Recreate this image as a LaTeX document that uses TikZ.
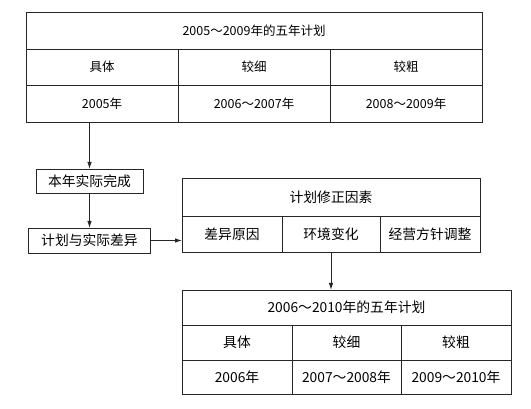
\documentclass[tikz,border=0pt]{standalone}
\usepackage{fontspec}
\setmainfont{Noto Sans CJK SC}
\usetikzlibrary{arrows.meta}
\tikzset{
  cell/.style={draw=black!85, line width=0.9pt, inner sep=0pt, outer sep=0pt, anchor=center, font=\fontsize{12.5}{14}\selectfont},
  cellb/.style={cell, font=\fontsize{13.8}{15}\selectfont},
  arr/.style={draw=black!85, line width=0.9pt, -{Latex[length=7pt,width=4.5pt]}}
}
\begin{document}
\begin{tikzpicture}[x=1pt,y=-1pt]
\useasboundingbox (0,0) rectangle (531,409);
% top table
\node[cell, minimum width=456pt, minimum height=37pt] (t1) at (254,30.5) {2005～2009年的五年计划};
\node[cell, minimum width=152pt, minimum height=36pt] (t2a) at (102,67) {具体};
\node[cell, minimum width=152pt, minimum height=36pt] (t2b) at (254,67) {较细};
\node[cell, minimum width=152pt, minimum height=36pt] (t2c) at (406,67) {较粗};
\node[cell, minimum width=152pt, minimum height=37pt] (t3a) at (102,103.5) {2005年};
\node[cell, minimum width=152pt, minimum height=37pt] (t3b) at (254,103.5) {2006～2007年};
\node[cell, minimum width=152pt, minimum height=37pt] (t3c) at (406,103.5) {2008～2009年};
% left boxes
\node[cellb, minimum width=107pt, minimum height=24pt] (box1) at (89.5,181) {本年实际完成};
\node[cellb, minimum width=122pt, minimum height=25pt] (box2) at (89.5,240.5) {计划与实际差异};
% middle table
\node[cellb, minimum width=298pt, minimum height=38pt] (m1) at (331,197) {计划修正因素};
\node[cellb, minimum width=100pt, minimum height=36pt] (m2a) at (232,234) {差异原因};
\node[cellb, minimum width=98pt, minimum height=36pt] (m2b) at (331,234) {环境变化};
\node[cellb, minimum width=100pt, minimum height=36pt] (m2c) at (430,234) {经营方针调整};
% bottom table
\node[cellb, minimum width=329pt, minimum height=35pt] (b1) at (346.5,307.5) {2006～2010年的五年计划};
\node[cellb, minimum width=110pt, minimum height=35pt] (b2a) at (237,342.5) {具体};
\node[cellb, minimum width=109pt, minimum height=35pt] (b2b) at (346.5,342.5) {较细};
\node[cellb, minimum width=110pt, minimum height=35pt] (b2c) at (456,342.5) {较粗};
\node[cellb, minimum width=110pt, minimum height=34pt] (b3a) at (237,377) {2006年};
\node[cellb, minimum width=109pt, minimum height=34pt] (b3b) at (346.5,377) {2007～2008年};
\node[cellb, minimum width=110pt, minimum height=34pt] (b3c) at (456,377) {2009～2010年};
% arrows
\draw[arr] (box1.north |- t3a.south) -- (box1.north);
\draw[arr] (box1.south) -- (box2.north -| box1.south);
\draw[arr] (box2.east) -- (m2a.west |- box2.east);
\draw[arr] (m2b.south) -- (b1.north -| m2b.south);
\end{tikzpicture}
\end{document}
